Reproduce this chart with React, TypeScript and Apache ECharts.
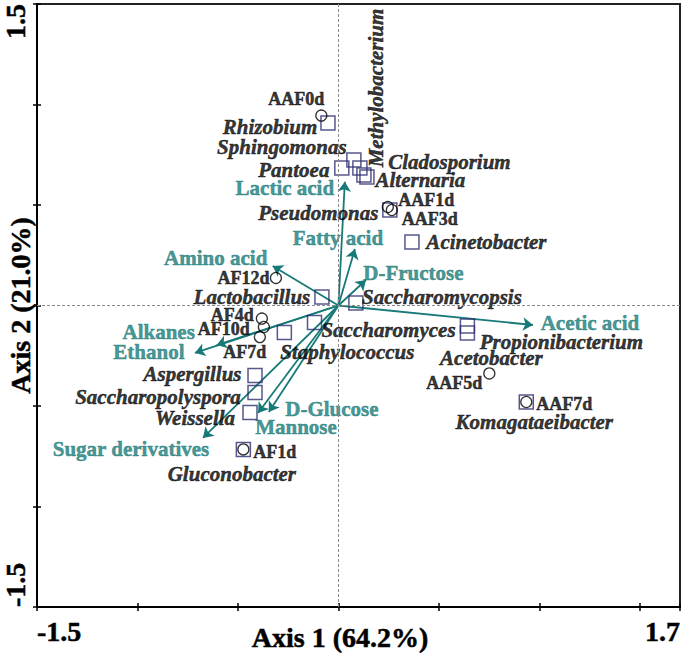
import React, { useEffect, useRef } from 'react';
import * as echarts from 'echarts';

// ---- data ----
const sampleNames = ['AAF0d', 'AAF1d', 'AAF3d', 'AAF5d', 'AAF7d', 'AF1d', 'AF4d', 'AF7d', 'AF10d', 'AF12d'];
const sampleAxis1 = [-0.085, 0.246, 0.266, 0.751, 0.935, -0.473, -0.381, -0.391, -0.371, -0.311];
const sampleAxis2 = [0.945, 0.49, 0.475, -0.338, -0.48, -0.716, -0.065, -0.157, -0.107, 0.137];

const genusNames = [
  'Rhizobium', 'Sphingomonas', 'Pantoea', 'Methylobacterium', 'Cladosporium', 'Alternaria',
  'Pseudomonas', 'Acinetobacter', 'Lactobacillus', 'Saccharomycopsis', 'Saccharomyces',
  'Staphylococcus', 'Aspergillus', 'Saccharopolyspora', 'Weissella', 'Gluconobacter',
  'Propionibacterium', 'Acetobacter', 'Komagataeibacter',
];
const genusAxis1 = [-0.052, 0.077, 0.017, 0.107, 0.127, 0.142, 0.256, 0.366, -0.082, 0.087, -0.119, -0.269, -0.415, -0.415, -0.44, -0.473, 0.642, 0.642, 0.935];
const genusAxis2 = [0.908, 0.724, 0.684, 0.684, 0.649, 0.639, 0.475, 0.316, 0.042, 0.012, -0.085, -0.134, -0.348, -0.433, -0.532, -0.716, -0.102, -0.137, -0.48];

const variableNames = ['Lactic acid', 'Fatty acid', 'D-Fructose', 'Amino acid', 'Acetic acid', 'Alkanes', 'Ethanol', 'D-Glucose', 'Mannose', 'Sugar derivatives'];
const variableAxis1 = [0.032, 0.082, 0.137, -0.327, 0.968, -0.606, -0.714, -0.346, -0.4, -0.674];
const variableAxis2 = [0.616, 0.281, 0.127, 0.197, -0.097, -0.197, -0.236, -0.53, -0.535, -0.659];

const xTickValues = [-1.5, 1.7];
const xTickLabels = ['-1.5', '1.7'];
const yTickValues = [-1.5, 1.5];
const yTickLabels = ['-1.5', '1.5'];

// ---- label placement (pixel offsets of label centres from their marks) ----
const sampleLabelOffset: Record<string, [number, number]> = {
  AAF0d: [-25, -16.5], AAF1d: [38.5, -7], AAF3d: [38, 9], AAF5d: [-35, 9.5], AAF7d: [38, 2],
  AF1d: [31.5, 2.5], AF4d: [-29.5, -3.5], AF10d: [-40, 2], AF7d: [-15, 15], AF12d: [-32.5, 0],
};
const genusLabelOffset: Record<string, [number, number]> = {
  Rhizobium: [-58, 4], Sphingomonas: [-72, -13], Pantoea: [-48, 2], Methylobacterium: [80, 16],
  Cladosporium: [85.5, -13], Alternaria: [53.5, 3], Pseudomonas: [-71.5, 3], Acinetobacter: [74.5, 0],
  Lactobacillus: [-70, 0], Saccharomycopsis: [86, -6], Saccharomyces: [74, 7.5], Staphylococcus: [63, 19.5],
  Aspergillus: [-62.5, -1.5], Saccharopolyspora: [-97, 4.5], Weissella: [-55, 5.5], Gluconobacter: [-11.5, 24.5],
  Propionibacterium: [94, 16], Acetobacter: [24, 25], Komagataeibacter: [8, 20],
};
const variableLabelOffset: Record<string, [number, number]> = {
  'Lactic acid': [-60, 6], 'Fatty acid': [-17, -11], 'D-Fructose': [47.5, -7], 'Amino acid': [-57, -8],
  'Acetic acid': [57, -2], Alkanes: [-58, -13], Ethanol: [-46, -1], 'D-Glucose': [63, -3],
  Mannose: [38, 14], 'Sugar derivatives': [-72, 11],
};

const FONT = '"Liberation Serif", "Times New Roman", serif';
const TEAL = '#177a78';
const NAVY = '#2d2d70';
const INK = '#000000';

const gridRect = { left: 37, top: 4, width: 643, height: 603 };

function buildOption(): any {
  const tickStyle = { color: INK, width: 1.5 };
  const heavy = (c: string) => ({ textBorderWidth: 0.5, textBorderColor: c, textShadowBlur: 0 });
  return {
    animation: false,
    backgroundColor: '#ffffff',
    grid: [
      { ...gridRect, show: true, borderColor: '#222', borderWidth: 2, backgroundColor: 'transparent', containLabel: false, outerBoundsMode: 'none' },
      { ...gridRect, show: false, containLabel: false, outerBoundsMode: 'none' },
    ],
    xAxis: [
      {
        gridIndex: 0, type: 'value', min: -1.5, max: 1.7, interval: 0.5,
        axisLine: { show: true, onZero: false, lineStyle: { color: INK, width: 2 } },
        axisTick: { show: true, inside: false, length: 4, lineStyle: tickStyle },
        splitLine: { show: false },
        axisLabel: {
          show: true, customValues: xTickValues,
          formatter: (v: number) => xTickLabels[xTickValues.findIndex((t) => Math.abs(t - v) < 1e-6)] ?? '',
          alignMinLabel: 'left', alignMaxLabel: 'right', margin: 10,
          color: INK, fontFamily: FONT, fontWeight: 'bold', fontSize: 28, ...heavy(INK),
        },
        name: 'Axis 1 (64.2%)', nameLocation: 'middle', nameGap: 16, nameMoveOverlap: false,
        nameTextStyle: { color: INK, fontFamily: FONT, fontWeight: 'bold', fontSize: 28, padding: [0, 37, 0, 0], ...heavy(INK) },
      },
      {
        gridIndex: 1, type: 'value', min: -1.5, max: 1.7, interval: 0.5,
        axisLine: { show: false, onZero: false },
        axisTick: { show: true, inside: true, length: 4, lineStyle: tickStyle },
        splitLine: { show: false }, axisLabel: { show: false },
      },
    ],
    yAxis: [
      {
        gridIndex: 0, type: 'value', min: -1.5, max: 1.5, interval: 0.5,
        axisLine: { show: true, onZero: false, lineStyle: { color: INK, width: 2 } },
        axisTick: { show: true, inside: false, length: 4, lineStyle: tickStyle },
        splitLine: { show: false },
        axisLabel: {
          show: true, customValues: yTickValues, rotate: 90,
          formatter: (v: number) => yTickLabels[yTickValues.findIndex((t) => Math.abs(t - v) < 1e-6)] ?? '',
          alignMinLabel: 'left', alignMaxLabel: 'right', margin: 8,
          color: INK, fontFamily: FONT, fontWeight: 'bold', fontSize: 28, ...heavy(INK),
        },
        name: 'Axis 2 (21.0%)', nameLocation: 'middle', nameRotate: 90, nameGap: 3, nameMoveOverlap: false,
        nameTextStyle: { color: INK, fontFamily: FONT, fontWeight: 'bold', fontSize: 28, ...heavy(INK) },
      },
      {
        gridIndex: 1, type: 'value', min: -1.5, max: 1.5, interval: 0.5,
        axisLine: { show: false, onZero: false },
        axisTick: { show: true, inside: true, length: 4, lineStyle: tickStyle },
        splitLine: { show: false }, axisLabel: { show: false },
      },
    ],
    series: [
      {
        type: 'lines', coordinateSystem: 'cartesian2d', xAxisIndex: 0, yAxisIndex: 0,
        silent: true, z: 2,
        symbol: ['none', 'arrow'], symbolSize: 10,
        lineStyle: { color: TEAL, width: 1.8, opacity: 1, curveness: 0 },
        data: variableNames.map((n, i) => ({ name: n, coords: [[0, 0], [variableAxis1[i], variableAxis2[i]]] })),
        markLine: {
          silent: true, symbol: ['none', 'none'], label: { show: false },
          lineStyle: { color: '#8a8a8a', width: 1, type: [3, 2] },
          data: [{ xAxis: 0 }, { yAxis: 0 }],
        },
      },
      {
        type: 'scatter', xAxisIndex: 0, yAxisIndex: 0, silent: true, z: 3,
        symbolSize: 0,
        label: {
          show: true, position: 'inside', formatter: '{b}',
          color: TEAL, fontFamily: FONT, fontWeight: 'bold', fontSize: 21, ...heavy(TEAL),
        },
        data: variableNames.map((n, i) => ({
          name: n, value: [variableAxis1[i], variableAxis2[i]],
          label: { offset: variableLabelOffset[n] },
        })),
      },
      {
        type: 'scatter', xAxisIndex: 0, yAxisIndex: 0, silent: true, z: 4,
        symbol: 'rect', symbolSize: 14,
        itemStyle: { color: 'rgba(0,0,0,0)', borderColor: NAVY, borderWidth: 1.5 },
        label: {
          show: true, position: 'inside', formatter: '{b}',
          color: INK, fontFamily: FONT, fontWeight: 'bold', fontStyle: 'italic', fontSize: 21, ...heavy(INK),
        },
        data: genusNames.map((n, i) => ({
          name: n, value: [genusAxis1[i], genusAxis2[i]],
          label: n === 'Methylobacterium'
            ? { offset: genusLabelOffset[n], rotate: 90 }
            : { offset: genusLabelOffset[n] },
        })),
      },
      {
        type: 'scatter', xAxisIndex: 0, yAxisIndex: 0, silent: true, z: 5,
        symbol: 'circle', symbolSize: 11,
        itemStyle: { color: 'rgba(0,0,0,0)', borderColor: INK, borderWidth: 1.3 },
        label: {
          show: true, position: 'inside', formatter: '{b}',
          color: INK, fontFamily: FONT, fontWeight: 'bold', fontSize: 18, ...heavy(INK),
        },
        data: sampleNames.map((n, i) => ({
          name: n, value: [sampleAxis1[i], sampleAxis2[i]],
          label: { offset: sampleLabelOffset[n] },
        })),
      },
    ],
  };
}

export default function App() {
  const ref = useRef<HTMLDivElement>(null);
  useEffect(() => {
    if (!ref.current) return;
    const chart = echarts.init(ref.current, null, { renderer: 'svg' });
    chart.setOption(buildOption());
    return () => chart.dispose();
  }, []);
  return (
    <div
      ref={ref}
      style={{ position: 'absolute', left: 0, top: 0, width: 685, height: 655, background: '#fff' }}
    />
  );
}
